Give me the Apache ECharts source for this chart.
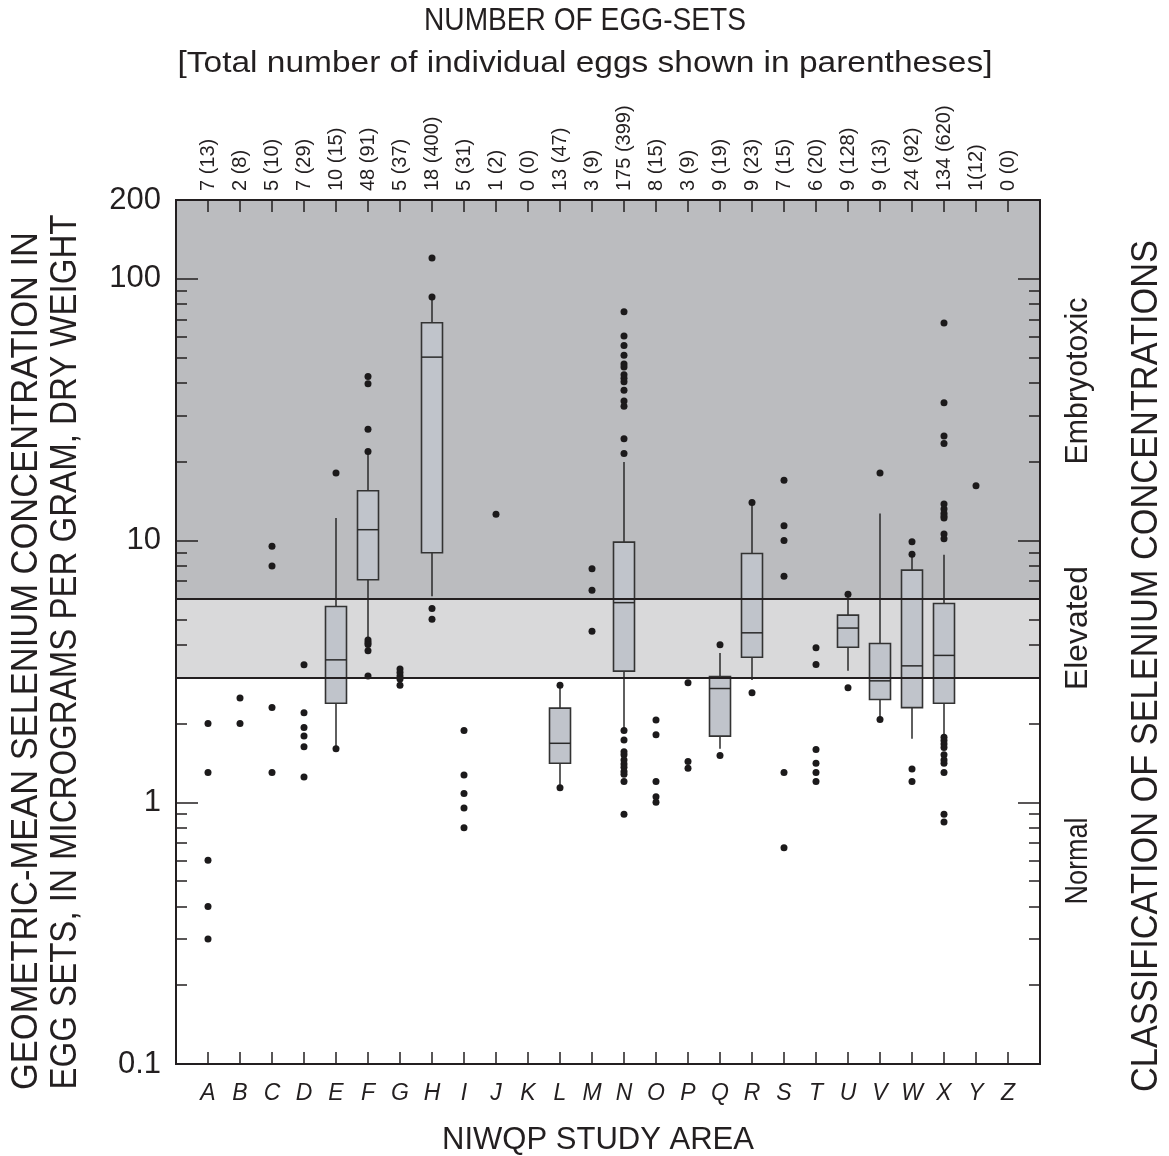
<!DOCTYPE html>
<html>
<head>
<meta charset="utf-8">
<script src="https://cdn.jsdelivr.net/npm/echarts@6/dist/echarts.min.js"></script>
<style>
html,body{margin:0;padding:0;background:#ffffff;}
#chart{width:1169px;height:1156px;}
</style>
</head>
<body>
<div id="chart"></div>
<script>
// ---------------- data ----------------
const areas = ['A','B','C','D','E','F','G','H','I','J','K','L','M','N','O','P','Q','R','S','T','U','V','W','X','Y','Z'];
const eggSets = ['7 (13)','2 (8)','5 (10)','7 (29)','10 (15)','48 (91)','5 (37)','18 (400)','5 (31)','1 (2)','0 (0)','13 (47)','3 (9)',
                 '175 (399)','8 (15)','3 (9)','9 (19)','9 (23)','7 (15)','6 (20)','9 (128)','9 (13)','24 (92)','134 (620)','1(12)','0 (0)'];

const yLabelValues = [0.1, 1, 10, 100, 200];
const yMajorTicks = [0.1, 1, 10, 100];
const yMinorTicks = [0.2,0.3,0.4,0.5,0.6,0.7,0.8,0.9, 2,3,4,5,6,7,8,9, 20,30,40,50,60,70,80,90];

const thresholdElevated = 3;
const thresholdEmbryotoxic = 6;
const yTop = 200;

const boxAreas  = ['E',  'F',  'H',  'L',  'N',  'Q',  'R',  'U',  'V',  'W',  'X'];
const boxLow    = [1.6,  4.17, 6.13, 1.135,1.88, 1.6,  2.93, 3.18, 2.07, 1.75, 1.78];
const boxQ1     = [2.39, 7.08, 8.98, 1.41, 3.17, 1.79, 3.58, 3.91, 2.47, 2.30, 2.39];
const boxMedian = [3.5,  11.0, 50.2, 1.68, 5.79, 2.72, 4.44, 4.63, 2.91, 3.32, 3.64];
const boxQ3     = [5.6,  15.5, 67.9, 2.29, 9.86, 3.02, 8.92, 5.19, 4.04, 7.71, 5.75];
const boxHigh   = [12.2, 21.9, 85.2, 2.80, 19.96,3.72, 13.96,6.24, 12.68,8.87, 8.82];

// individual points, one list per study area (same order as `areas`)
const points = [
  [2.0, 1.3, 0.6, 0.4, 0.3],                                   // A
  [2.5, 2.0],                                                  // B
  [9.5, 8.0, 2.3, 1.3],                                        // C
  [3.35, 2.2, 1.93, 1.79, 1.63, 1.25],                         // D
  [18.1, 1.6],                                                 // E
  [42.3, 39.7, 26.6, 21.9, 4.17, 4.08, 4.01, 3.79, 3.04],      // F
  [3.23, 3.13, 3.04, 2.96, 2.8],                               // G
  [120, 85.2, 5.5, 5.0],                                       // H
  [1.88, 1.27, 1.08, 0.95, 0.8],                               // I
  [12.6],                                                      // J
  [],                                                          // K
  [2.8, 1.135],                                                // L
  [7.8, 6.45, 4.5],                                            // M
  [74.8, 60.4, 55.6, 51.0, 47.3, 46.0, 43.0, 41.7, 40.4, 37.5, 34.1, 32.6, 24.5, 21.5,
   1.88, 1.73, 1.56, 1.52, 1.45, 1.40, 1.36, 1.31, 1.28, 1.2, 0.9],   // N
  [2.06, 1.81, 1.2, 1.05, 1.0],                                // O
  [2.86, 1.43, 1.35],                                          // P
  [4.0, 1.51],                                                 // Q
  [13.96, 2.62],                                               // R
  [17.0, 11.4, 10.0, 7.3, 1.3, 0.67],                          // S
  [3.89, 3.36, 1.59, 1.41, 1.3, 1.2],                          // T
  [6.24, 2.74],                                                // U
  [18.1, 2.07],                                                // V
  [9.89, 8.87, 1.34, 1.2],                                     // W
  [67.8, 33.6, 25.1, 23.5, 13.8, 13.2, 12.7, 12.4, 12.2, 10.6, 10.15,
   1.77, 1.72, 1.67, 1.62, 1.52, 1.45, 1.41, 1.30, 0.9, 0.84], // X
  [16.2],                                                      // Y
  []                                                           // Z
];

// ---------------- styling ----------------
const FONT = "'Liberation Sans', Arial, Helvetica, sans-serif";
const INK = '#231f20';
const DOT = '#1c1a1b';
const DARK = '#bbbcbf';
const LIGHT = '#d9d9da';
const BOXFILL = '#c0c4cb';

const xCats = [''].concat(areas, ['']);
const xTop = [''].concat(eggSets, ['']);

const scatterData = [];
areas.forEach((a, i) => points[i].forEach(v => scatterData.push([a, v])));
const boxData = boxAreas.map((a, i) => [a, boxLow[i], boxQ1[i], boxMedian[i], boxQ3[i], boxHigh[i]]);

const measureCtx = document.createElement('canvas').getContext('2d');
function fitScale(text, size, target) {
  measureCtx.font = size + 'px ' + FONT;
  return target / measureCtx.measureText(text).width;
}
function label(text, x, y, size, target, vertical) {
  const font = size + 'px ' + FONT;
  return {
    type: 'text', x: x, y: y, z: 50,
    rotation: vertical ? Math.PI / 2 : 0,
    scaleX: target ? fitScale(text, size, target) : 1,
    scaleY: 1,
    style: { text: text, font: font, fill: INK, align: 'center', verticalAlign: 'middle',
             textAlign: 'center', textVerticalAlign: 'middle' }
  };
}

function yAxisDef(pos, ticks, len, withLabels) {
  return {
    type: 'log', logBase: 10, min: 0.1, max: yTop, position: pos, z: 10,
    axisLine: { show: true, lineStyle: { color: INK, width: 2 } },
    axisTick: { show: true, inside: true, length: len, customValues: ticks,
                lineStyle: { color: INK, width: 1.5 } },
    axisLabel: withLabels ? {
      show: true, customValues: yLabelValues, margin: 15,
      formatter: v => String(+(+v).toPrecision(3)),
      fontFamily: FONT, fontSize: 31, color: INK
    } : { show: false },
    splitLine: { show: false }, minorTick: { show: false }, minorSplitLine: { show: false }
  };
}

const option = {
  animation: false,
  backgroundColor: '#ffffff',
  grid: { left: 176, top: 200, width: 864, height: 864, containLabel: false },
  xAxis: [
    {
      type: 'category', data: xCats, boundaryGap: false, position: 'bottom', z: 10,
      axisLine: { show: true, lineStyle: { color: INK, width: 2 } },
      axisTick: { show: true, inside: true, length: 12, interval: 0, lineStyle: { color: INK, width: 1.5 } },
      axisLabel: { interval: 0, fontFamily: FONT, fontStyle: 'italic', fontSize: 23, color: INK, margin: 18 },
      splitLine: { show: false }
    },
    {
      type: 'category', data: xTop, boundaryGap: false, position: 'top', z: 10,
      axisLine: { show: true, lineStyle: { color: INK, width: 2 } },
      axisTick: { show: true, inside: true, length: 12, interval: 0, lineStyle: { color: INK, width: 1.5 } },
      axisLabel: { interval: 0, rotate: -90, fontFamily: FONT, fontSize: 20, color: INK, margin: 9 },
      splitLine: { show: false }
    }
  ],
  yAxis: [
    yAxisDef('left', yMajorTicks, 22, true),
    yAxisDef('left', yMinorTicks, 11, false),
    yAxisDef('right', yMajorTicks, 22, false),
    yAxisDef('right', yMinorTicks, 11, false)
  ],
  series: [
    {
      type: 'line', data: [], z: 1, silent: true, xAxisIndex: 0, yAxisIndex: 0,
      markArea: {
        silent: true,
        data: [
          [{ yAxis: thresholdEmbryotoxic, itemStyle: { color: DARK } }, { yAxis: yTop }],
          [{ yAxis: thresholdElevated, itemStyle: { color: LIGHT } }, { yAxis: thresholdEmbryotoxic }]
        ]
      }
    },
    {
      type: 'line', data: [], z: 2, silent: true, xAxisIndex: 0, yAxisIndex: 0,
      markLine: {
        silent: true, symbol: ['none', 'none'], label: { show: false },
        lineStyle: { color: INK, width: 2, type: 'solid' },
        data: [{ yAxis: thresholdElevated }, { yAxis: thresholdEmbryotoxic }]
      }
    },
    {
      type: 'custom', z: 3, xAxisIndex: 0, yAxisIndex: 0, silent: true,
      encode: { x: 0, y: [1, 2, 3, 4, 5] },
      data: boxData,
      renderItem: function (params, api) {
        const x = api.value(0);
        const pLow = api.coord([x, api.value(1)]);
        const pQ1 = api.coord([x, api.value(2)]);
        const pMed = api.coord([x, api.value(3)]);
        const pQ3 = api.coord([x, api.value(4)]);
        const pHigh = api.coord([x, api.value(5)]);
        const hw = 10.5;
        const ls = { stroke: '#2a2a2a', lineWidth: 1.5 };
        return {
          type: 'group',
          children: [
            { type: 'line', shape: { x1: pLow[0], y1: pLow[1], x2: pQ1[0], y2: pQ1[1] }, style: ls },
            { type: 'line', shape: { x1: pQ3[0], y1: pQ3[1], x2: pHigh[0], y2: pHigh[1] }, style: ls },
            { type: 'rect', shape: { x: pQ3[0] - hw, y: pQ3[1], width: 2 * hw, height: pQ1[1] - pQ3[1] },
              style: { fill: BOXFILL, stroke: '#333333', lineWidth: 1.6 } },
            { type: 'line', shape: { x1: pMed[0] - hw, y1: pMed[1], x2: pMed[0] + hw, y2: pMed[1] }, style: ls }
          ]
        };
      }
    },
    {
      type: 'scatter', z: 4, xAxisIndex: 0, yAxisIndex: 0, silent: true,
      symbol: 'circle', symbolSize: 7,
      itemStyle: { color: DOT, opacity: 1 },
      data: scatterData
    }
  ],
  graphic: [
    label('NUMBER OF EGG-SETS', 585, 21, 32, 322, false),
    label('[Total number of individual eggs shown in parentheses]', 585, 64, 30, 815, false),
    label('NIWQP STUDY AREA', 598, 1140, 32, 312, false),
    label('GEOMETRIC-MEAN SELENIUM CONCENTRATION IN', 27, 661, 37, 858, true),
    label('EGG SETS, IN MICROGRAMS PER GRAM, DRY WEIGHT', 66, 652, 37, 875, true),
    label('CLASSIFICATION OF SELENIUM CONCENTRATIONS', 1147, 666, 37, 852, true),
    label('Embryotoxic', 1078, 381, 31, 167, true),
    label('Elevated', 1078, 628, 31, 124, true),
    label('Normal', 1078, 861, 31, 87, true)
  ]
};

const chart = echarts.init(document.getElementById('chart'), null, { renderer: 'canvas' });
chart.setOption(option);
</script>
</body>
</html>
